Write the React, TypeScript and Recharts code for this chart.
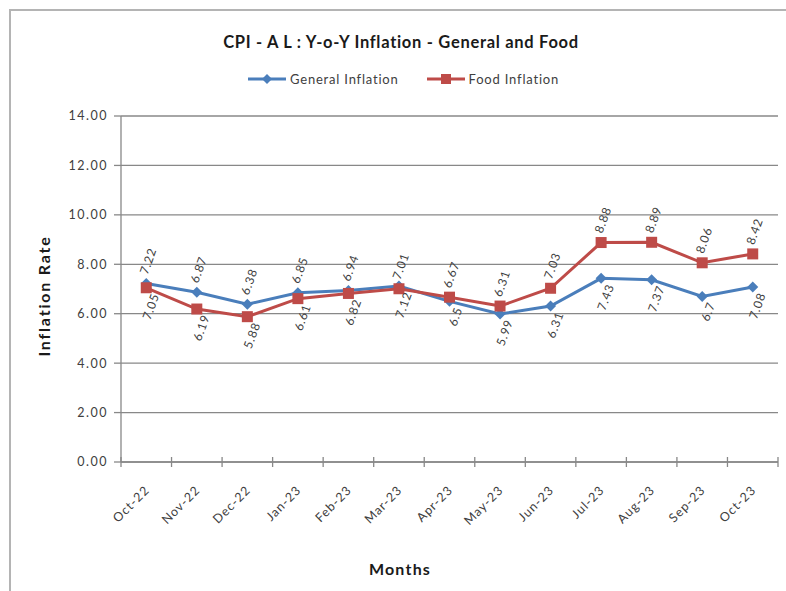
import { CartesianGrid, Line, LineChart, XAxis, YAxis } from "recharts";

// CPI-AL year-on-year inflation, general vs food
const months = [
  "Oct-22", "Nov-22", "Dec-22", "Jan-23", "Feb-23", "Mar-23", "Apr-23",
  "May-23", "Jun-23", "Jul-23", "Aug-23", "Sep-23", "Oct-23",
];
const generalInflation = [7.22, 6.87, 6.38, 6.85, 6.94, 7.12, 6.5, 5.99, 6.31, 7.43, 7.37, 6.7, 7.08];
const foodInflation = [7.05, 6.19, 5.88, 6.61, 6.82, 7.01, 6.67, 6.31, 7.03, 8.88, 8.89, 8.06, 8.42];
const yTicks = [0, 2, 4, 6, 8, 10, 12, 14];

const data = months.map((month, i) => ({
  month,
  general: generalInflation[i],
  food: foodInflation[i],
}));

const FONT = "Lato, 'Open Sans', sans-serif";
const TEXT = "#404040";
const AXIS = "#888888";
const BLUE = "#4a7ebb";
const RED = "#be4b48";

const W = 786;
const H = 591;
const PLOT_LEFT = 121;
const PLOT_RIGHT = 778;
const PLOT_TOP = 116;
const PLOT_BOTTOM = 462;
const HALF_BAND = (PLOT_RIGHT - PLOT_LEFT) / months.length / 2;
// from Mar-23 on the food labels sit above the line and the general ones below
const SWAP_INDEX = 5;

function Diamond({ cx, cy, size = 5.5 }: { cx: number; cy: number; size?: number }) {
  return (
    <polygon
      points={`${cx},${cy - size} ${cx + size},${cy} ${cx},${cy + size} ${cx - size},${cy}`}
      fill={BLUE}
    />
  );
}

function Square({ cx, cy, size = 11 }: { cx: number; cy: number; size?: number }) {
  return <rect x={cx - size / 2} y={cy - size / 2} width={size} height={size} fill={RED} />;
}

function valueLabel(aboveBeforeSwap: boolean) {
  return (props: any) => {
    const { x, y, value, index } = props;
    const above = index < SWAP_INDEX ? aboveBeforeSwap : !aboveBeforeSwap;
    const ax = above ? x - 3 : x + 9;
    const ay = above ? y - 10 : y + 6;
    return (
      <text
        key={`l-${index}`}
        x={ax}
        y={ay}
        textAnchor={above ? "start" : "end"}
        dominantBaseline="central"
        transform={`rotate(-70, ${ax}, ${ay})`}
        fontSize={12}
        letterSpacing={0.8}
        fontFamily={FONT}
        fill={TEXT}
      >
        {value}
      </text>
    );
  };
}

function MonthTick(props: any) {
  const { x, payload, index } = props;
  const lx = x + 4;
  const ly = 491;
  return (
    <g>
      <line x1={x - HALF_BAND} x2={x - HALF_BAND} y1={PLOT_BOTTOM - 5} y2={PLOT_BOTTOM + 5} stroke={AXIS} strokeWidth={1.3} />
      {index === months.length - 1 && (
        <line x1={x + HALF_BAND} x2={x + HALF_BAND} y1={PLOT_BOTTOM - 5} y2={PLOT_BOTTOM + 5} stroke={AXIS} strokeWidth={1.3} />
      )}
      <text
        x={lx}
        y={ly}
        textAnchor="end"
        transform={`rotate(-45, ${lx}, ${ly})`}
        fontSize={12.5}
        letterSpacing={1}
        fontFamily={FONT}
        fill={TEXT}
      >
        {payload.value}
      </text>
    </g>
  );
}

function LegendBox() {
  const item = (label: string, color: string, marker: React.ReactNode) => (
    <div style={{ display: "flex", alignItems: "center", gap: 4 }}>
      <svg width={38} height={14}>
        <line x1={0} x2={38} y1={7} y2={7} stroke={color} strokeWidth={3} />
        {marker}
      </svg>
      <span style={{ fontSize: 13, color: TEXT, fontFamily: FONT, letterSpacing: 0.8 }}>{label}</span>
    </div>
  );
  return (
    <div
      style={{
        position: "absolute",
        left: 248,
        top: 71,
        display: "flex",
        gap: 28,
      }}
    >
      {item("General Inflation", BLUE, <Diamond cx={19} cy={7} size={5} />)}
      {item("Food Inflation", RED, <Square cx={19} cy={7} size={10} />)}
    </div>
  );
}

export default function App() {
  return (
    <div style={{ position: "absolute", left: 0, top: 0, width: W, height: H, background: "#fff", overflow: "hidden" }}>
      <div
        style={{
          position: "absolute",
          left: 9,
          top: 9,
          width: W,
          height: H,
          borderLeft: "2px solid #b4b4b4",
          borderTop: "2px solid #b4b4b4",
        }}
      />
      <div
        style={{
          position: "absolute",
          top: 32,
          left: 0,
          width: W,
          paddingLeft: 16,
          boxSizing: "border-box",
          textAlign: "center",
          fontFamily: FONT,
          fontWeight: 700,
          fontSize: 16.5,
          letterSpacing: 0.7,
          color: "#1a1a1a",
        }}
      >
        CPI - A L : Y-o-Y Inflation - General and Food
      </div>
      <LegendBox />
      <div
        style={{
          position: "absolute",
          left: 43,
          top: 296,
          transform: "translate(-50%, -50%) rotate(-90deg)",
          whiteSpace: "nowrap",
          fontFamily: FONT,
          fontWeight: 700,
          fontSize: 16,
          letterSpacing: 1.8,
          color: "#1a1a1a",
        }}
      >
        Inflation Rate
      </div>
      <div
        style={{
          position: "absolute",
          left: 400,
          top: 568,
          transform: "translate(-50%, -50%)",
          fontFamily: FONT,
          fontWeight: 700,
          fontSize: 16,
          letterSpacing: 1.2,
          color: "#1a1a1a",
        }}
      >
        Months
      </div>
      <LineChart
        width={W}
        height={H}
        data={data}
        margin={{ top: PLOT_TOP, right: W - PLOT_RIGHT, bottom: 0, left: 0 }}
        accessibilityLayer={false}
        style={{ position: "absolute", left: 0, top: 0 }}
      >
        <CartesianGrid vertical={false} stroke={AXIS} strokeWidth={1.3} />
        <XAxis
          dataKey="month"
          height={H - PLOT_BOTTOM}
          padding={{ left: HALF_BAND, right: HALF_BAND }}
          interval={0}
          tickLine={false}
          axisLine={{ stroke: AXIS, strokeWidth: 1.3 }}
          tick={<MonthTick />}
        />
        <YAxis
          width={PLOT_LEFT}
          domain={[0, 14]}
          ticks={yTicks}
          interval={0}
          tickSize={7}
          tickMargin={6}
          tickFormatter={(v: number) => v.toFixed(2)}
          tick={{ fontSize: 12.5, fill: TEXT, fontFamily: FONT, letterSpacing: 1.5 }}
          tickLine={{ stroke: AXIS, strokeWidth: 1.3 }}
          axisLine={{ stroke: AXIS, strokeWidth: 1.3 }}
        />
        <Line
          dataKey="general"
          name="General Inflation"
          stroke={BLUE}
          strokeWidth={3}
          dot={(p: any) => <Diamond key={`d-${p.index}`} cx={p.cx} cy={p.cy} />}
          activeDot={false}
          label={valueLabel(true)}
          isAnimationActive={false}
        />
        <Line
          dataKey="food"
          name="Food Inflation"
          stroke={RED}
          strokeWidth={3}
          dot={(p: any) => <Square key={`s-${p.index}`} cx={p.cx} cy={p.cy} />}
          activeDot={false}
          label={valueLabel(false)}
          isAnimationActive={false}
        />
      </LineChart>
    </div>
  );
}
